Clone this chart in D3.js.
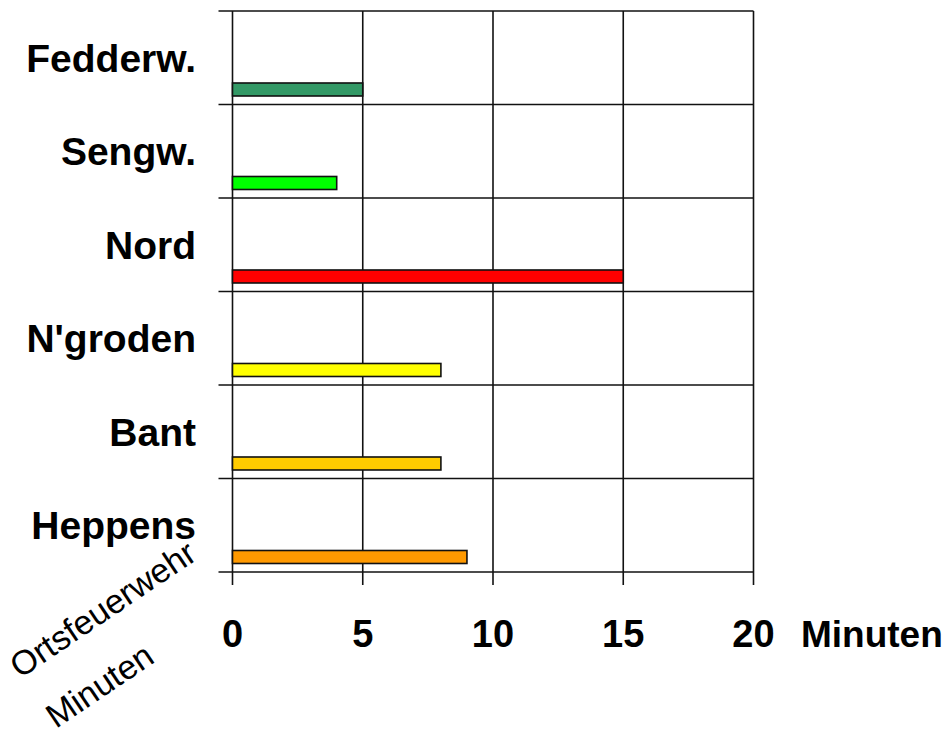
<!DOCTYPE html>
<html>
<head>
<meta charset="utf-8">
<script src="https://cdn.jsdelivr.net/npm/d3@7"></script>
<style>
  html, body { margin: 0; padding: 0; background: #fff; }
  svg { display: block; }
  text { font-family: "Liberation Sans", Arial, sans-serif; fill: #000; }
</style>
</head>
<body>
<svg id="chart" width="944" height="729"></svg>
<script>
// Alarm-to-arrival time per local fire brigade (Ortsfeuerwehr), in minutes
const stations = ["Fedderw.", "Sengw.", "Nord", "N'groden", "Bant", "Heppens"];
const minutes  = [5, 4, 15, 8, 8, 9];
const colors   = ["#339966", "#00ff00", "#ff0000", "#ffff00", "#ffcc00", "#ff9900"];
const xTicks   = [0, 5, 10, 15, 20];

const svg = d3.select("#chart");
const plot = { left: 232.5, right: 753.5, top: 11, bottom: 572 };

const x = d3.scaleLinear().domain([0, 20]).range([plot.left, plot.right]);
const y = d3.scaleBand().domain(stations).range([plot.top, plot.bottom]).paddingInner(0).paddingOuter(0);
const bw = y.bandwidth();

const grid = svg.append("g").attr("stroke", "#111").attr("stroke-width", 1.6);

// horizontal separators between stations, with short ticks to the left
const edges = stations.map(s => y(s)).concat([plot.bottom]);
grid.selectAll("line.h").data(edges).join("line")
  .attr("x1", plot.left - 14).attr("x2", plot.right)
  .attr("y1", d => d).attr("y2", d => d);

// vertical gridlines, with short ticks below the plot
grid.selectAll("line.v").data(xTicks).join("line")
  .attr("x1", d => x(d)).attr("x2", d => x(d))
  .attr("y1", plot.top).attr("y2", plot.bottom + 13);

// bars
svg.append("g").selectAll("rect").data(stations).join("rect")
  .attr("x", x(0))
  .attr("y", d => y(d) + bw * 0.77)
  .attr("width", (d, i) => x(minutes[i]) - x(0))
  .attr("height", bw * 0.139)
  .attr("fill", (d, i) => colors[i])
  .attr("stroke", "#111")
  .attr("stroke-width", 1.6);

// station labels
svg.append("g").selectAll("text").data(stations).join("text")
  .attr("x", 196)
  .attr("y", d => y(d) + bw / 2)
  .attr("dy", "0.36em")
  .attr("text-anchor", "end")
  .attr("font-size", 39)
  .attr("font-weight", "bold")
  .text(d => d);

// minute tick labels
svg.append("g").selectAll("text").data(xTicks).join("text")
  .attr("x", d => x(d))
  .attr("y", 647)
  .attr("text-anchor", "middle")
  .attr("font-size", 38)
  .attr("font-weight", "bold")
  .text(d => d);

svg.append("text")
  .attr("x", 801).attr("y", 647)
  .attr("font-size", 37).attr("font-weight", "bold")
  .text("Minuten");

// rotated corner captions
svg.append("text")
  .attr("transform", "translate(20,679) rotate(-34)")
  .attr("font-size", 34)
  .text("Ortsfeuerwehr");

svg.append("text")
  .attr("transform", "translate(56,729) rotate(-34)")
  .attr("font-size", 34)
  .text("Minuten");
</script>
</body>
</html>
